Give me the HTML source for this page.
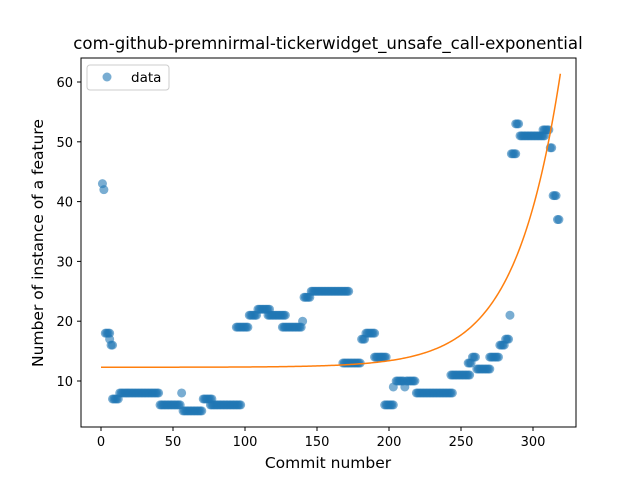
<!DOCTYPE html>
<html><head><meta charset="utf-8"><style>
body{margin:0;background:#fff}
svg{font-family:"DejaVu Sans","Liberation Sans",sans-serif}
</style></head><body>
<svg id="chart" width="640" height="480" viewBox="0 0 640 480">
<rect width="640" height="480" fill="#fff"/>
<text x="328" y="49" font-size="16.6" text-anchor="middle">com-github-premnirmal-tickerwidget_unsafe_call-exponential</text>
<g id="plot"></g>
<rect x="81" y="58" width="495" height="369" fill="none" stroke="#000" stroke-width="1"/>
<text x="328" y="468" font-size="15.5" text-anchor="middle">Commit number</text>
<text transform="translate(43,243) rotate(-90)" font-size="15.5" text-anchor="middle">Number of instance of a feature</text>
<g>
<rect x="87" y="65" width="82" height="25" rx="3" fill="#fff" fill-opacity="0.8" stroke="#ccc"/>
<circle cx="107" cy="77" r="4.5" fill="#1f77b4" fill-opacity="0.6"/>
<text x="131" y="82" font-size="13.5">data</text>
</g>
</svg>
<script>
const runs=[[1,1,43],[2,2,42],[3,6,18],[6,6,17],[7,8,16],[8,12,7],[13,40,8],[41,55,6],[56,56,8],[57,70,5],[71,77,7],[76,97,6],[94,102,19],[103,108,21],[109,117,22],[116,128,21],[126,139,19],[140,140,20],[141,145,24],[146,172,25],[168,180,13],[181,183,17],[184,190,18],[190,198,14],[197,203,6],[203,203,9],[205,210,10],[211,211,9],[212,218,10],[219,244,8],[243,256,11],[255,257,13],[258,260,14],[261,270,12],[270,276,14],[277,280,16],[281,283,17],[284,284,21],[285,288,48],[288,290,53],[291,308,51],[307,311,52],[312,313,49],[314,316,41],[317,318,37]];
const xTicks=[0,50,100,150,200,250,300];
const yTicks=[10,20,30,40,50,60];
const fitA=0.00181, fitB=0.032, fitC=12.3, fitMax=319;
const xs=v=>101+v*1.44;
const ys=v=>381-(v-10)*5.98;
const ns="http://www.w3.org/2000/svg";
const g=document.getElementById('plot');
function mk(t,a){const e=document.createElementNS(ns,t);for(const k in a)e.setAttribute(k,a[k]);g.appendChild(e);return e;}
xTicks.forEach(t=>{
 const l=mk('line',{x1:xs(t),x2:xs(t),y1:427,y2:431,stroke:'#000'});
 
 
 const tx=mk('text',{x:xs(t),y:446,'font-size':'13','text-anchor':'middle'});tx.textContent=t;
 
 
});
yTicks.forEach(t=>{
 const l=mk('line',{x1:77,x2:81,y1:ys(t),y2:ys(t),stroke:'#000'});
 
 
 const tx=mk('text',{x:73,y:ys(t)+5,'font-size':'13','text-anchor':'end'});tx.textContent=t;
 
 
});
runs.forEach(r=>{for(let x=r[0];x<=r[1];x++){
 const c=mk('circle',{cx:xs(x),cy:ys(r[2]),r:4.5,fill:'#1f77b4','fill-opacity':0.6});
 
 
}});
let d='';for(let x=0;x<=fitMax;x++){const v=fitA*Math.exp(fitB*x)+fitC;d+=(x?'L':'M')+xs(x).toFixed(2)+','+ys(v).toFixed(2);}
const p=mk('path',{d:d,fill:'none',stroke:'#ff7f0e','stroke-width':1.5});


</script>
</body></html>
